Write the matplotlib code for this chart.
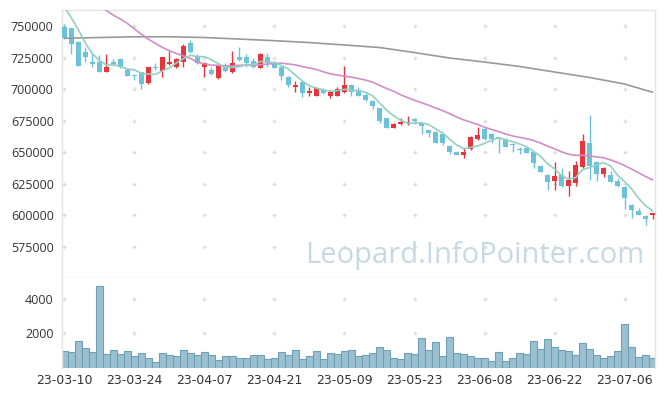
import numpy as np
import pandas as pd
import matplotlib
matplotlib.use('Agg')
import matplotlib.pyplot as plt

plt.rcParams['font.family'] = ['Open Sans', 'DejaVu Sans']

# trading days (KRX holidays removed)
dates = pd.bdate_range('2023-03-10', '2023-07-12', freq='C',
                       holidays=['2023-05-01', '2023-05-05', '2023-05-29', '2023-06-06'])

opens = [749500, 748200, 737600, 729200, 721500, 721500, 713900, 721500, 723700, 715200,
         711200, 713900, 704700, 717800, 714400, 720200, 717800, 721500, 736800, 726300,
         717800, 715400, 708600, 718300, 713900, 725500, 725200, 722300, 717000, 725500,
         721300, 717500, 709900, 702000, 705700, 697000, 694900, 699400, 694900, 694900,
         698000, 703300, 699400, 695700, 690900, 685100, 677200, 669600, 672300, 673000,
         676400, 673000, 667700, 666400, 664600, 655100, 650300, 648200, 652500, 660800,
         668500, 664600, 662000, 660400, 656700, 652700, 653700, 650600, 639300, 632200,
         627500, 632200, 623000, 626100, 638300, 657700, 642200, 632900, 632200, 627600,
         622500, 608400, 603700, 599700, 600000]
highs = [751300, 748500, 738000, 733600, 729700, 727000, 727600, 723700, 725000, 716500,
         712000, 713900, 717300, 720500, 725500, 730200, 724500, 735800, 738900, 727600,
         721500, 717300, 718800, 720500, 730200, 733200, 728100, 725000, 728300, 728400,
         722600, 718000, 710500, 706500, 706800, 702000, 702000, 700800, 699000, 702000,
         718400, 703800, 701500, 697500, 691500, 685500, 677500, 673000, 677000, 678800,
         676800, 673400, 668000, 666800, 665000, 655500, 650700, 653300, 663000, 669900,
         670000, 665000, 662500, 661000, 657200, 654500, 654000, 651000, 639800, 632600,
         642200, 637400, 635600, 643500, 664300, 679600, 642600, 638300, 635000, 630000,
         623000, 608800, 606000, 600000, 602000]
lows = [740000, 727600, 718000, 721800, 717300, 713900, 713900, 718600, 717000, 710700,
        707300, 700200, 703900, 715200, 709900, 719100, 716500, 717300, 728400, 720000,
        709900, 711200, 708000, 714000, 712600, 722300, 717800, 716800, 716500, 717800,
        716500, 707300, 701500, 698000, 694100, 694900, 694500, 696000, 693300, 694500,
        696800, 694600, 694500, 691000, 684100, 673000, 669300, 669000, 671500, 671800,
        672500, 664600, 662100, 657700, 655500, 648500, 647500, 645300, 651500, 660000,
        660000, 657200, 649800, 654000, 650600, 648500, 649500, 637900, 634500, 620300,
        620300, 622500, 615500, 623400, 637800, 628000, 627600, 630500, 626500, 622500,
        605000, 597900, 600000, 592600, 597300]
closes = [740500, 735800, 718400, 725500, 720000, 713900, 717800, 720000, 717800, 710700,
          710200, 703900, 717300, 716500, 725200, 721500, 723900, 734200, 729200, 720500,
          720700, 712000, 718300, 714700, 720700, 723400, 720500, 717300, 727900, 720700,
          717000, 710700, 703300, 703600, 697300, 698800, 700700, 697000, 698000, 700200,
          703300, 698000, 694900, 691500, 686700, 674900, 669600, 672500, 674100, 674400,
          674900, 671100, 665600, 657700, 657700, 650600, 648200, 650600, 662000, 663800,
          660600, 660600, 660400, 654500, 655900, 651900, 649800, 641900, 634800, 626700,
          631400, 623000, 628200, 640100, 659100, 639300, 632900, 637900, 626900, 623000,
          613800, 604500, 600500, 597300, 601600]
volumes = [931, 874, 1565, 1160, 874, 4730, 758, 989, 758, 931,
           643, 816, 528, 298, 816, 701, 643, 1046, 816, 701,
           874, 701, 413, 643, 643, 528, 528, 701, 701, 470,
           528, 874, 701, 1046, 470, 643, 931, 470, 816, 758,
           931, 1046, 643, 701, 816, 1219, 1046, 528, 470, 816,
           758, 1738, 989, 1507, 643, 1795, 816, 758, 643, 528,
           528, 355, 874, 355, 528, 816, 758, 1565, 1104, 1680,
           1219, 989, 931, 701, 1450, 1104, 701, 528, 643, 931,
           2544, 1219, 586, 701, 528]

# moving-average values before enough closes exist
ma5_head = [765000, 756300, 746800, 736300]
ma20_head = [789000, 784500, 780000, 775500, 771000, 766600, 762300, 758500, 755500, 752000,
             747700, 743500, 739500, 736200, 733000, 730500, 728200, 726300, 724400]
# long moving average, sampled every 5 sessions (last point = last session)
ma_long_idx = [0, 5, 10, 15, 20, 25, 30, 35, 40, 45, 50, 55, 60, 65, 70, 75, 80, 84]
ma_long = [740300, 740900, 741500, 741500, 740900, 739700, 738400, 736900, 735000, 733000,
           729000, 724700, 721500, 718000, 713600, 709300, 704100, 697600]

price_ticks = [575000, 600000, 625000, 650000, 675000, 700000, 725000, 750000]
vol_ticks = [2000, 4000]

UP = '#e8343c'
DOWN = '#6cc3d9'
GRID = '#dcdcdc'
EDGE = '#e4e4e4'

n = len(closes)
x = np.arange(n)
o = np.array(opens); h = np.array(highs); l = np.array(lows); c = np.array(closes)
cs = pd.Series(closes, dtype=float)
ma5 = cs.rolling(5).mean().values
ma5[:4] = ma5_head
ma20 = cs.rolling(20).mean().values
ma20[:19] = ma20_head

fig = plt.figure(figsize=(6.65, 3.96), dpi=100)
ax = fig.add_axes([62 / 665, 118 / 396, 593 / 665, 268 / 396])
axv = fig.add_axes([62 / 665, 28.5 / 396, 593 / 665, 89.5 / 396], sharex=ax)

xtick_idx = list(range(0, n, 10))

# grid as little crosses
gx, gy = np.meshgrid(xtick_idx, price_ticks)
ax.scatter(gx.ravel(), gy.ravel(), marker='+', s=8, color=GRID, lw=1.0, zorder=0)
gx, gy = np.meshgrid(xtick_idx, vol_ticks)
axv.scatter(gx.ravel(), gy.ravel(), marker='+', s=8, color=GRID, lw=1.0, zorder=0)

ax.text(0.696, 0.056, 'Leopard.InfoPointer.com', transform=ax.transAxes, ha='center',
        va='baseline', fontsize=21, color='#c6d9e5', zorder=1)

colors = [UP if cc >= oo else DOWN for oo, cc in zip(o, c)]
ax.vlines(x, l, h, colors=colors, lw=1.0, zorder=2)
body_lo = np.minimum(o, c)
body_h = np.maximum(np.abs(c - o), 900)
ax.bar(x, body_h, bottom=body_lo, width=0.8, color=colors, zorder=3)

ax.plot(ma_long_idx, ma_long, color='#999999', lw=1.2, zorder=4)
ax.plot(x, ma20, color='#cf8fc6', lw=1.2, zorder=4)
ax.plot(x, ma5, color='#94d0c2', lw=1.2, zorder=4)

ax.set_ylim(550500, 762700)
ax.set_xlim(-0.357, n - 1 + 0.357)
ax.set_yticks(price_ticks)
ax.set_yticklabels([str(t) for t in price_ticks])
ax.tick_params(axis='y', length=0, pad=6, labelsize=9, labelcolor='#333333')
ax.tick_params(axis='x', length=0, labelbottom=False)
for s in ax.spines.values():
    s.set_color(EDGE)
    s.set_linewidth(1)

axv.bar(x, volumes, width=0.92, color='#9bc0d0', edgecolor='#70a0b6', lw=0.8, zorder=2)
axv.set_ylim(0, max(volumes) * 1.1)
axv.set_yticks(vol_ticks)
axv.set_yticklabels([str(t) for t in vol_ticks])
axv.set_xticks(xtick_idx)
axv.set_xticklabels([dates[i].strftime('%y-%m-%d') for i in xtick_idx],
                    family=['DejaVu Sans'])
axv.tick_params(axis='both', length=0, labelsize=9, labelcolor='#333333')
axv.tick_params(axis='y', pad=6)
axv.tick_params(axis='x', pad=5)
for s in axv.spines.values():
    s.set_color(EDGE)
    s.set_linewidth(1)
axv.spines['bottom'].set_visible(False)
axv.spines['top'].set_visible(False)

fig.savefig('out.png', dpi=100)
